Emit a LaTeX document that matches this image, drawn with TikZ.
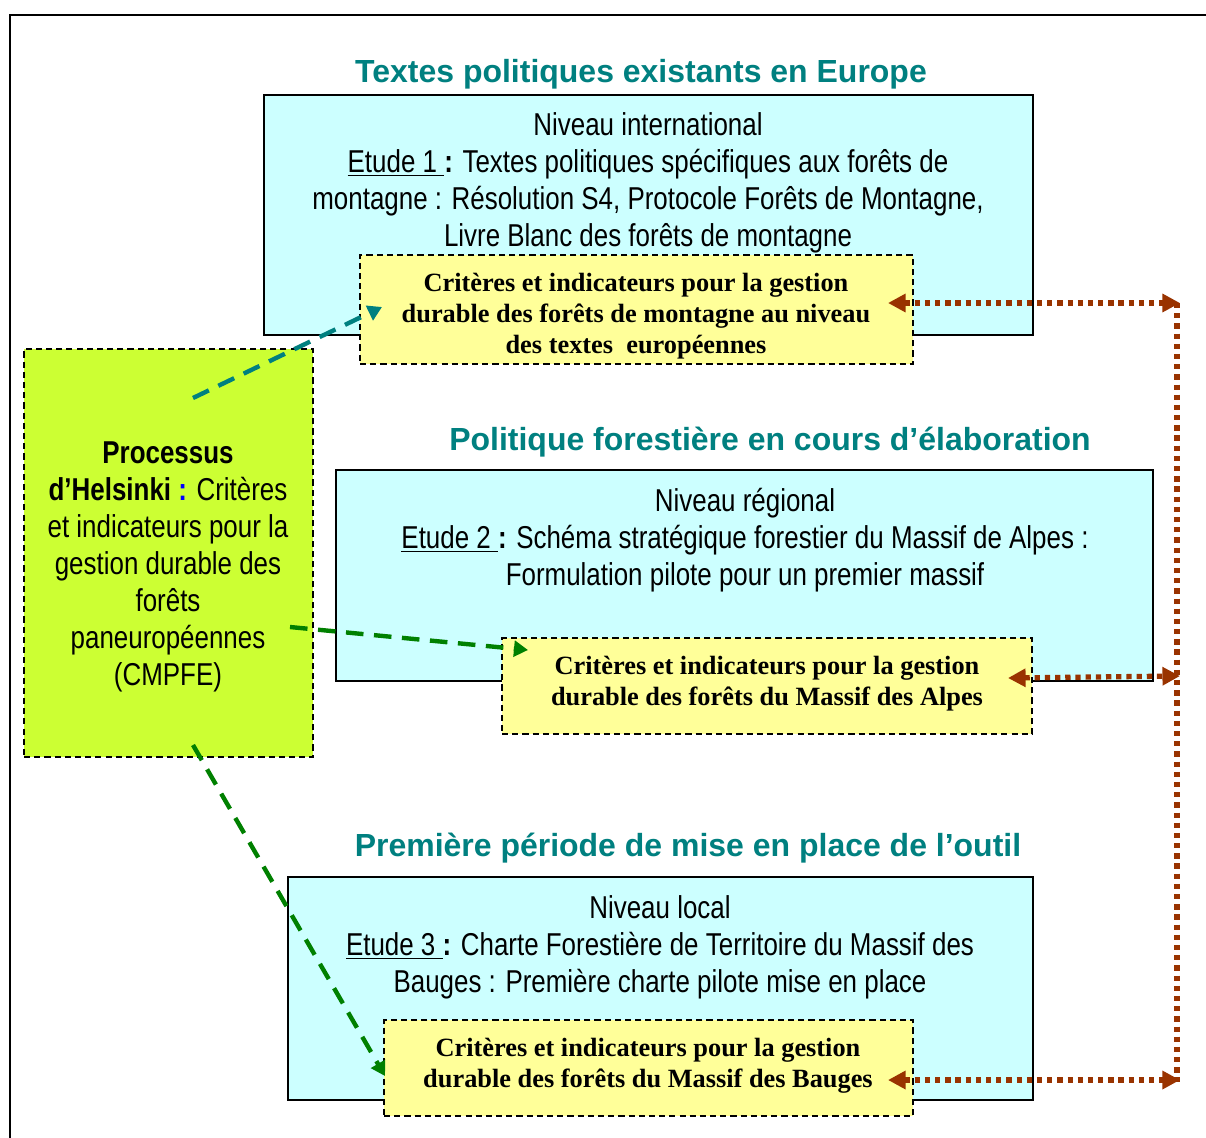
\documentclass[tikz,border=0pt]{standalone}
\usepackage{fontspec}
\setmainfont{Liberation Serif}
\newfontfamily\narrowsans[FakeStretch=0.82]{Liberation Sans}
\newfontfamily\arialsans{Liberation Sans}
\usetikzlibrary{fit,arrows.meta}
\definecolor{tealc}{HTML}{008080}
\definecolor{greenc}{HTML}{008000}
\definecolor{brownc}{HTML}{993300}
\definecolor{cyanfill}{HTML}{CCFFFF}
\definecolor{yellowfill}{HTML}{FFFF99}
\definecolor{limefill}{HTML}{CCFF33}
\tikzset{
  bluebox/.style={draw=black, line width=1pt, fill=cyanfill, inner sep=0pt},
  yellowbox/.style={draw=black, line width=0.8pt, dash pattern=on 3.5pt off 2.3pt, fill=yellowfill, inner sep=0pt},
  greenbox/.style={draw=black, line width=0.8pt, dash pattern=on 3.5pt off 2.3pt, fill=limefill, inner sep=0pt},
  titletext/.style={font=\arialsans\bfseries\fontsize{18.2}{21}\selectfont, text=tealc, inner sep=0pt},
  bodytext/.style={font=\narrowsans\fontsize{18}{21}\selectfont, align=center, inner sep=0pt},
  crittext/.style={font=\bfseries\fontsize{15}{17.6}\selectfont, align=center, inner sep=0pt},
  tealarrow/.style={draw=tealc, line width=2.5pt, dash pattern=on 10pt off 6pt, -{Triangle[length=8pt,width=9pt]}},
  greenarrow/.style={draw=greenc, line width=2.5pt, dash pattern=on 10pt off 6pt, -{Triangle[length=8pt,width=9pt]}},
  brownarrow/.style={draw=brownc, line width=3pt, dash pattern=on 3pt off 2.8pt, {Triangle[length=10pt,width=10pt]}-{Triangle[length=10pt,width=10pt]}},
  brownline/.style={draw=brownc, line width=3pt, dash pattern=on 3pt off 2.8pt},
}
\begin{document}
\begin{tikzpicture}[x=0.02cm,y=-0.02cm]
\useasboundingbox[fill=white] (0,0) rectangle (1206,1137);
% outer frame
\draw[line width=1.1pt] (10,1140) -- (10,15) -- (1210,15);

% titles
\node[titletext] (t1) at (641,74) {Textes politiques existants en Europe};
\node[titletext] (t2) at (770,442) {Politique forestière en cours d’élaboration};
\node[titletext] (t3) at (688,848) {Première période de mise en place de l’outil};

% level 1
\node[bluebox, fit={(264,95) (1033,335)}] (b1) {};
\node[bodytext] (b1txt) at (648,183) {Niveau international\\
\underline{Etude 1 }\textbf{:} Textes politiques spécifiques aux forêts de\\
montagne : Résolution S4, Protocole Forêts de Montagne,\\
Livre Blanc des forêts de montagne};
\node[yellowbox, fit={(360,255) (913,364)}] (y1) {};
\node[crittext] (y1txt) at (636,316) {Critères et indicateurs pour la gestion\\
durable des forêts de montagne au niveau\\
des textes\ \ européennes};

% green box
\node[greenbox, fit={(24,349) (313,757)}] (g) {};
\node[bodytext] (gtxt) at (168,567) {\textbf{Processus}\\
\textbf{d’Helsinki} {\color{blue}\textbf{:}} Critères\\
et indicateurs pour la\\
gestion durable des\\
forêts\\
paneuropéennes\\
(CMPFE)};

% level 2
\node[bluebox, fit={(336,470) (1153,681)}] (b2) {};
\node[bodytext] (b2txt) at (745,540) {Niveau régional\\
\underline{Etude 2 }\textbf{:} Schéma stratégique forestier du Massif de Alpes :\\
Formulation pilote pour un premier massif};
\node[yellowbox, fit={(502,638) (1032,734)}] (y2) {};
\node[crittext] (y2txt) at (767,684) {Critères et indicateurs pour la gestion\\
durable des forêts du Massif des Alpes};

% level 3
\node[bluebox, fit={(288,877) (1033,1100)}] (b3) {};
\node[bodytext] (b3txt) at (660,947) {Niveau local\\
\underline{Etude 3 }\textbf{:} Charte Forestière de Territoire du Massif des\\
Bauges : Première charte pilote mise en place};
\node[yellowbox, fit={(384,1020) (913,1116)}] (y3) {};
\node[crittext] (y3txt) at (648,1066) {Critères et indicateurs pour la gestion\\
durable des forêts du Massif des Bauges};

% connector end points
\coordinate (tealstart) at (193,398);
\coordinate (tealend) at (382,307);
\coordinate (gstart1) at (290,627);
\coordinate (gend1) at (528,650);
\coordinate (gstart2) at (193,745);
\coordinate (gend2) at (385,1076);
\coordinate (l1) at (888,303);
\coordinate (r1) at (1180,303);
\coordinate (l2) at (1008,678);
\coordinate (r2) at (1180,676);
\coordinate (l3) at (888,1080);
\coordinate (r3) at (1180,1080);

% connectors
\draw[tealarrow] (tealstart) -- (tealend);
\draw[greenarrow] (gstart1) -- (gend1);
\draw[greenarrow] (gstart2) -- (gend2);
\draw[brownline] (1177,303) -- (1177,1082);
\draw[brownarrow] (l1) -- (r1);
\draw[brownarrow] (l2) -- (r2);
\draw[brownarrow] (l3) -- (r3);
\end{tikzpicture}
\end{document}
